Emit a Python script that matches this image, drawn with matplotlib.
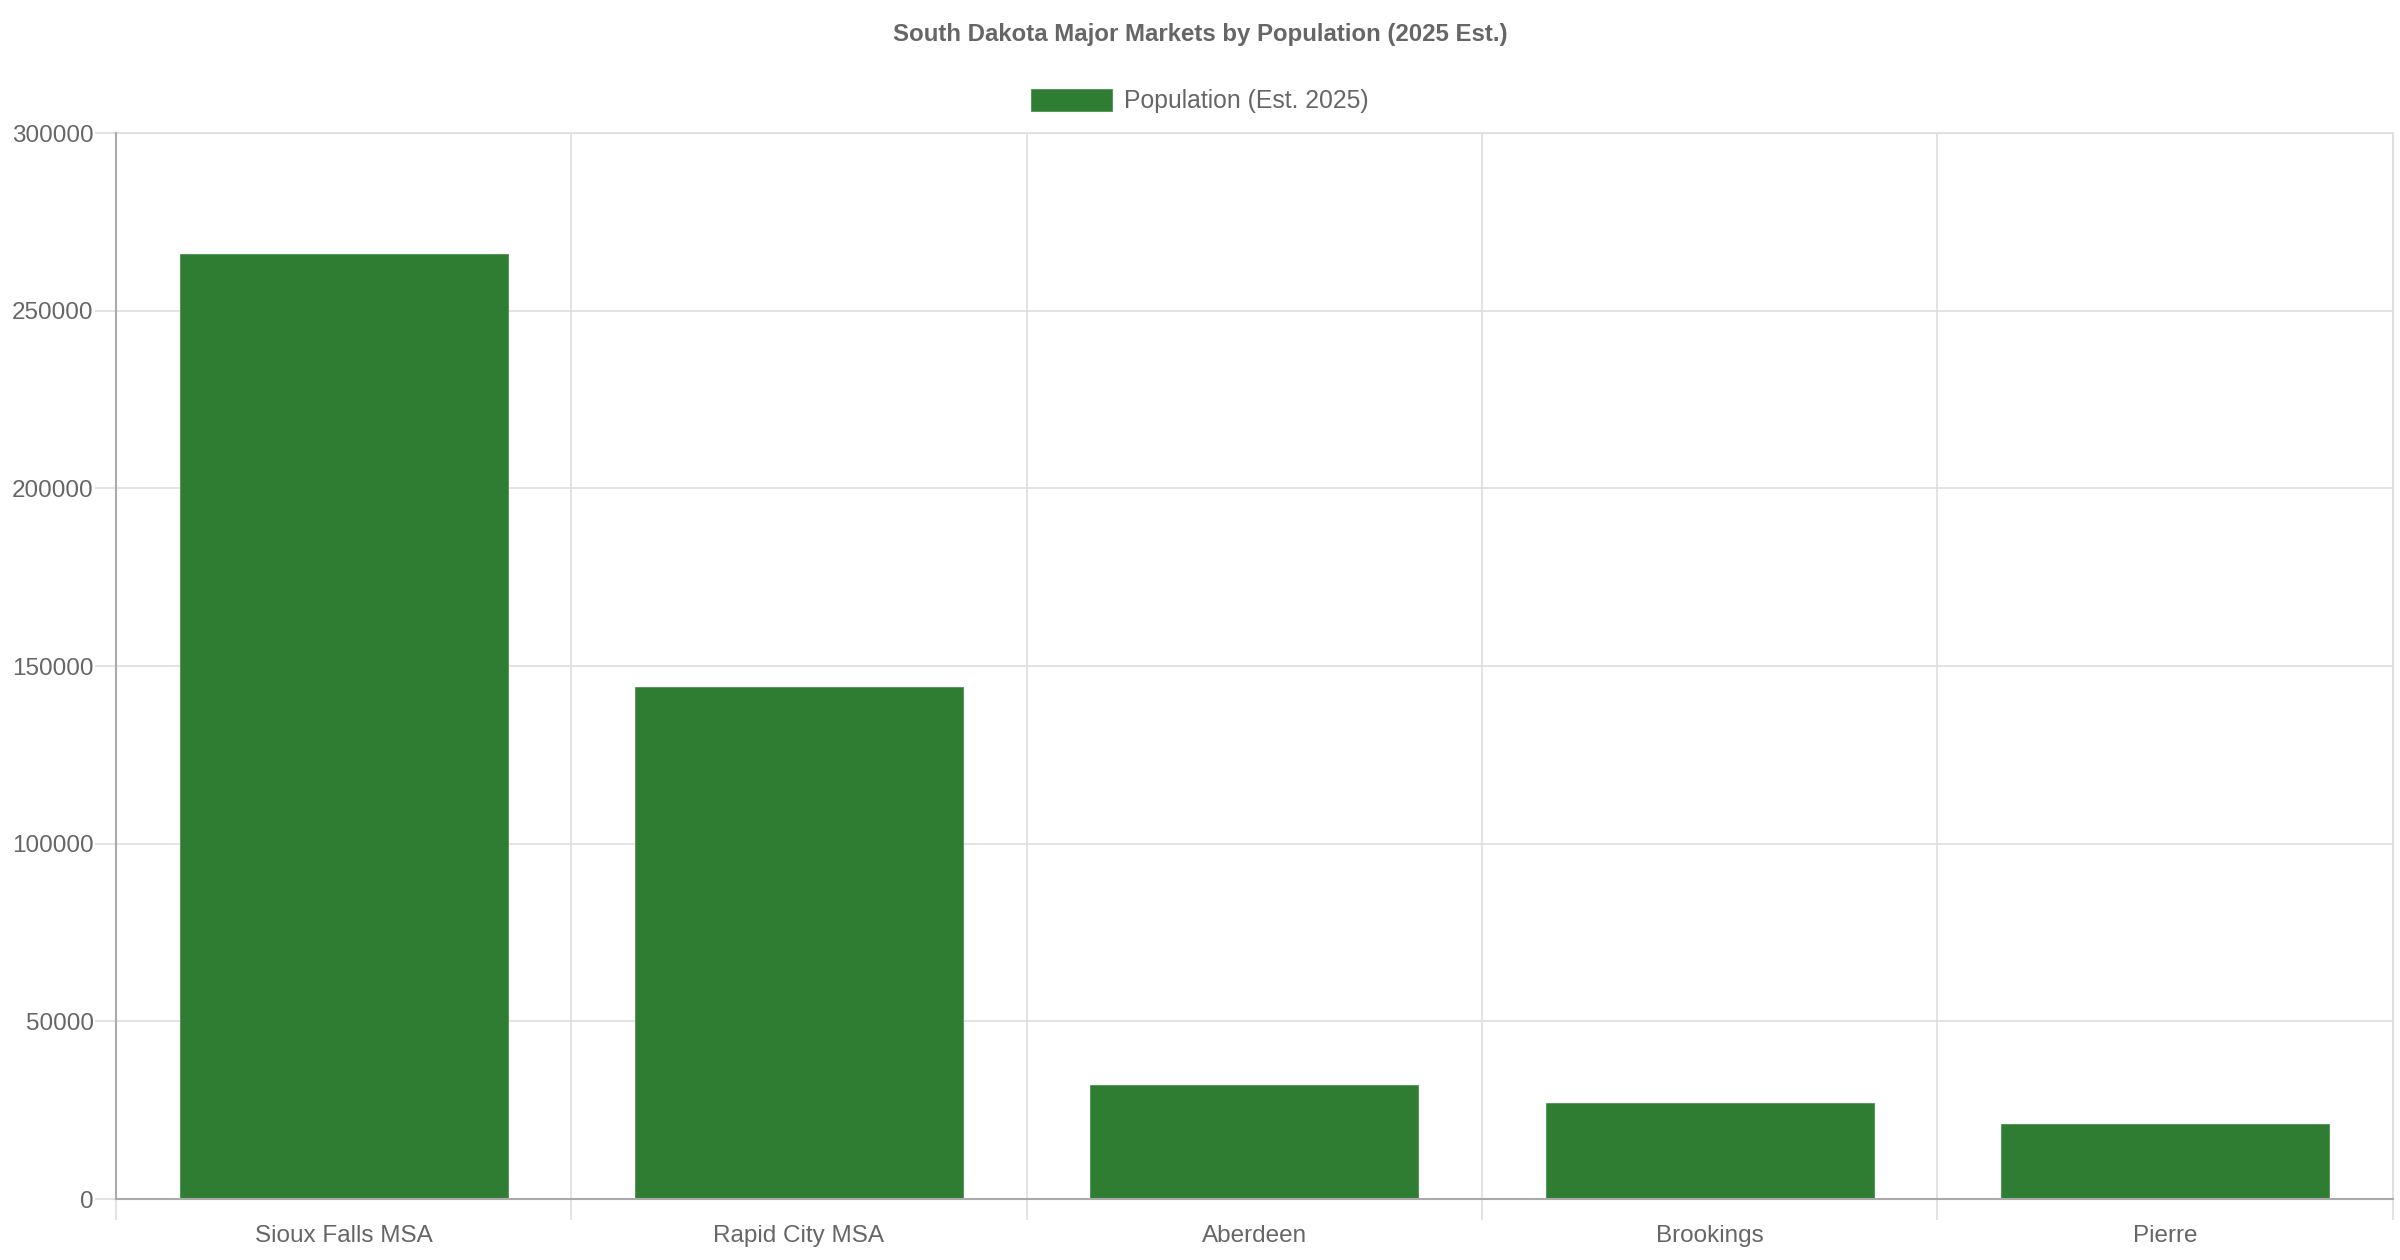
import matplotlib.pyplot as plt
import matplotlib.patches as mpatches
import numpy as np

markets = ['Sioux Falls MSA', 'Rapid City MSA', 'Aberdeen', 'Brookings', 'Pierre']
population = [266000, 144000, 32000, 27000, 21000]
y_ticks = [0, 50000, 100000, 150000, 200000, 250000, 300000]

green = '#2e7d32'
text_color = '#666666'
grid_color = '#dedede'
axis_color = '#aaaaaa'

plt.rcParams['font.family'] = ['Liberation Sans', 'DejaVu Sans']

fig = plt.figure(figsize=(24, 12.6), dpi=100)
ax = fig.add_axes([0.0483, 0.0484, 0.9487, 0.846])

x = np.arange(len(markets))
ax.bar(x, population, width=0.72, color=green, edgecolor='#4c9150', linewidth=0.6,
       zorder=3)

ax.set_xlim(-0.5, len(markets) - 0.5)
ax.set_ylim(0, 300000)

ax.set_yticks(y_ticks)
ax.set_yticklabels([str(v) for v in y_ticks], fontsize=17.5, color=text_color)
ax.tick_params(axis='y', length=15, width=1.2, color=grid_color, pad=1)

ax.set_xticks(x)
ax.set_xticklabels(markets, fontsize=17.5, color=text_color)
ax.tick_params(axis='x', which='major', length=0, pad=19)
ax.set_xticks(np.arange(len(markets) + 1) - 0.5, minor=True)
ax.tick_params(axis='x', which='minor', length=15, width=1.2, color=grid_color)

ax.yaxis.grid(True, color=grid_color, linewidth=1.2, zorder=0)
ax.xaxis.grid(True, which='minor', color=grid_color, linewidth=1.2, zorder=0)

for side in ['top', 'right']:
    ax.spines[side].set_color(grid_color)
    ax.spines[side].set_linewidth(1.2)
for side in ['left', 'bottom']:
    ax.spines[side].set_color(axis_color)
    ax.spines[side].set_linewidth(1.5)
    ax.spines[side].set_zorder(4)

fig.text(0.5, 1 - 34 / 1260, 'South Dakota Major Markets by Population (2025 Est.)',
         ha='center', va='center', fontsize=17.3, fontweight='bold', color=text_color)

handle = mpatches.Patch(facecolor=green, edgecolor='#4c9150', linewidth=0.6,
                        label='Population (Est. 2025)')
fig.legend(handles=[handle], loc='center', bbox_to_anchor=(0.5, 1 - 101 / 1260),
           frameon=False, fontsize=17.8, labelcolor=text_color,
           handlelength=3.25, handleheight=1.0, handletextpad=0.5)

fig.savefig('out.png', dpi=100, facecolor='white')
